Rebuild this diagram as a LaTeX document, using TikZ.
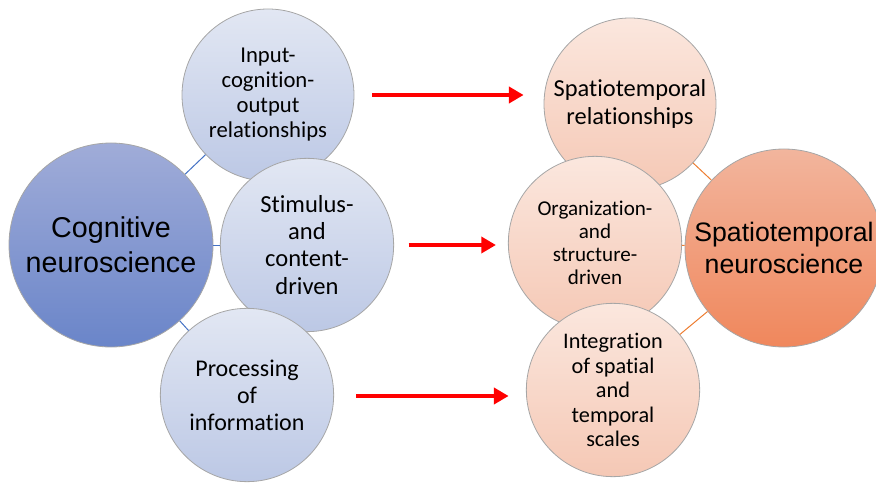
\documentclass[tikz,border=0pt]{standalone}
\usepackage{fontspec}
\setmainfont[Ligatures=NoCommon]{Carlito}
\newfontfamily\arialfont{Liberation Sans}
\usepackage{tikz}
\usetikzlibrary{arrows.meta}

\definecolor{cogtop}{HTML}{A0ACD8}
\definecolor{cogbot}{HTML}{6A85C9}
\definecolor{bluetop}{HTML}{E2E7F3}
\definecolor{bluebot}{HTML}{BCC8E5}
\definecolor{peachtop}{HTML}{FBE7DE}
\definecolor{peachbot}{HTML}{F5C8B5}
\definecolor{orgtop}{HTML}{F2B59D}
\definecolor{orgbot}{HTML}{F0875C}
\definecolor{blueline}{HTML}{4472C4}
\definecolor{orangeline}{HTML}{ED7D31}
\definecolor{rim}{HTML}{A6A6A6}

\begin{document}
\begin{tikzpicture}[x=0.75pt, y=-0.75pt,
  bubble/.style={circle, draw=rim, line width=0.6pt, inner sep=0pt, align=center, text=black},
  bigblue/.style={bubble, top color=cogtop, bottom color=cogbot, minimum size=153pt,
    font=\arialfont\fontsize{21.5}{26}\selectfont},
  bigorange/.style={bubble, top color=orgtop, bottom color=orgbot, minimum size=148.5pt,
    font=\arialfont\fontsize{20}{24}\selectfont},
  smallblue/.style={bubble, top color=bluetop, bottom color=bluebot, minimum size=130pt},
  smallpeach/.style={bubble, top color=peachtop, bottom color=peachbot, minimum size=130pt},
  flow/.style={draw=red, line width=3.5pt, -{Triangle[length=11pt,width=12pt]}}]

\useasboundingbox (0,0) rectangle (876,485);

% Cognitive side
\node[bigblue] (cog) at (111,245) {Cognitive\\neuroscience};
\node[smallblue, minimum size=129pt, font=\fontsize{17}{18.75}\selectfont] (input) at (268,95) {Input-\\cognition-\\output\\relationships};
\node[smallblue, font=\fontsize{18.4}{20.3}\selectfont] (stim) at (307,245) {Stimulus-\\and\\content-\\driven};
\node[smallblue, font=\fontsize{18}{20.3}\selectfont] (proc) at (247,395) {Processing\\of\\information};

\draw[blueline, line width=0.75pt] (cog) -- (input);
\draw[blueline, line width=0.75pt] (cog) -- (stim);
\draw[blueline, line width=0.75pt] (cog) -- (proc);

% Spatiotemporal side
\node[smallpeach, minimum size=129pt, font=\fontsize{18.3}{21}\selectfont] (strel) at (630,104) {Spatiotemporal\\relationships};
\node[smallpeach, font=\fontsize{15.8}{17.3}\selectfont] (orgn) at (595,243) {Organization-\\and\\structure-\\driven};
\node[smallpeach, font=\fontsize{16.7}{18.4}\selectfont] (integ) at (613,390) {Integration\\of spatial\\and\\temporal\\scales};
\node[bigorange] (spat) at (784,248) {Spatiotemporal\\neuroscience};

\draw[orangeline, line width=0.75pt] (spat) -- (strel);
\draw[orangeline, line width=0.75pt] (spat) -- (orgn);
\draw[orangeline, line width=0.75pt] (spat) -- (integ);

% Arrows
\draw[flow, shorten <=13.5pt, shorten >=15pt] (input.east) -- (input.east -| strel.west);
\draw[flow, shorten <=11pt, shorten >=9pt] (stim.east) -- (stim.east -| orgn.west);
\draw[flow, shorten <=16.5pt, shorten >=13pt] ([yshift=-0.75pt]proc.east) -- ([yshift=-0.75pt]proc.east -| integ.west);

\end{tikzpicture}
\end{document}
